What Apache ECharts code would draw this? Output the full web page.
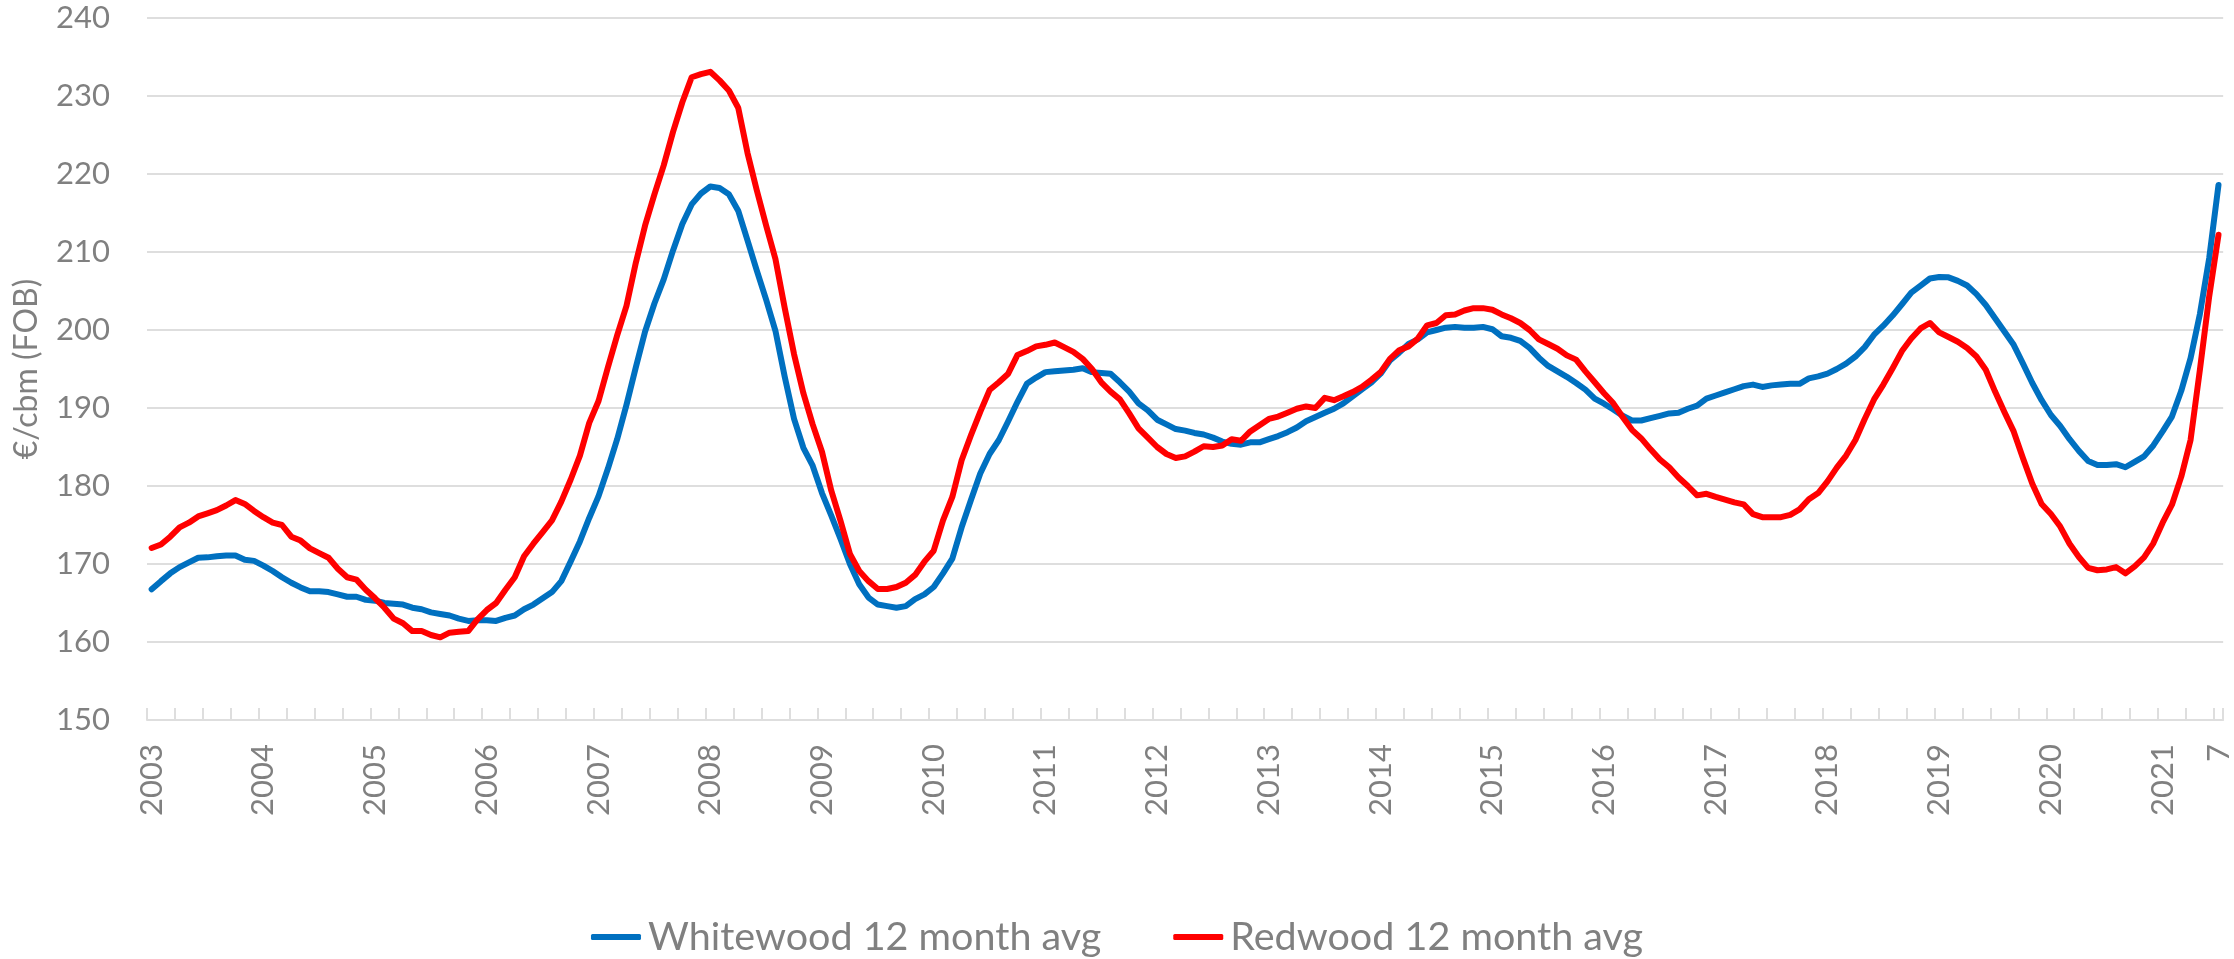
<!DOCTYPE html>
<html>
<head>
<meta charset="utf-8">
<script src="https://cdn.jsdelivr.net/npm/echarts@6/dist/echarts.min.js"></script>
<style>
html,body{margin:0;padding:0;background:#fff;}
#chart{width:2234px;height:959px;}
</style>
</head>
<body>
<div id="chart"></div>
<script>
// Monthly categories: Jan 2003 .. Jul 2021 (223 months)
const startYear = 2003;
const monthCount = 223;
const categories = [];
for (let i = 0; i < monthCount; i++) {
  const y = startYear + Math.floor(i / 12);
  const m = (i % 12) + 1;
  categories.push(y + '-' + (m < 10 ? '0' + m : m));
}
const lastLabel = '7';

const seriesNames = ['Whitewood 12 month avg', 'Redwood 12 month avg'];

const whitewood = [
166.75,167.8,168.8,169.6,170.2,170.8,170.85,171.0,171.1,171.1,170.55,170.4,
169.8,169.1,168.3,167.6,167.0,166.5,166.5,166.4,166.1,165.8,165.8,165.4,
165.3,165.0,164.9,164.8,164.4,164.2,163.8,163.6,163.4,163.0,162.7,162.8,
162.8,162.7,163.1,163.4,164.2,164.8,165.6,166.4,167.8,170.3,172.9,175.9,
178.7,182.2,186.0,190.4,195.2,199.8,203.4,206.5,210.2,213.6,216.1,217.5,
218.4,218.2,217.4,215.3,211.5,207.6,203.9,199.9,194.0,188.6,184.9,182.6,
179.1,176.2,173.2,170.0,167.4,165.7,164.8,164.6,164.4,164.6,165.5,166.1,
167.05,168.8,170.7,174.7,178.2,181.6,184.1,185.9,188.3,190.8,193.1,193.9,
194.6,194.7,194.8,194.9,195.1,194.6,194.5,194.4,193.3,192.1,190.6,189.7,
188.5,187.9,187.3,187.1,186.8,186.6,186.2,185.7,185.4,185.3,185.6,185.6,
186.0,186.4,186.9,187.5,188.3,188.85,189.4,189.9,190.6,191.5,192.4,193.25,
194.4,196.1,197.1,198.2,198.8,199.7,200.0,200.3,200.4,200.3,200.3,200.4,
200.1,199.2,199.0,198.6,197.7,196.45,195.4,194.7,194.0,193.2,192.35,191.2,
190.55,189.8,189.0,188.4,188.4,188.7,189.0,189.3,189.4,189.9,190.3,191.2,
191.6,192.0,192.4,192.8,193.0,192.7,192.9,193.0,193.1,193.1,193.8,194.05,
194.4,195.0,195.7,196.6,197.8,199.4,200.55,201.85,203.3,204.8,205.7,206.6,
206.8,206.75,206.3,205.7,204.6,203.2,201.5,199.8,198.1,195.7,193.2,191.0,
189.1,187.7,186.0,184.5,183.2,182.7,182.7,182.8,182.4,183.1,183.8,185.2,
187.0,188.9,192.2,196.4,202.05,209.2,218.6
];

const redwood = [
172.05,172.5,173.5,174.7,175.3,176.1,176.5,176.9,177.5,178.2,177.7,176.8,
176.0,175.3,175.0,173.5,173.0,172.0,171.4,170.8,169.4,168.3,168.0,166.7,
165.6,164.4,163.0,162.4,161.4,161.4,160.9,160.6,161.2,161.3,161.4,162.9,
164.1,165.0,166.7,168.3,171.0,172.6,174.1,175.6,178.0,180.8,183.9,188.1,
190.9,195.2,199.3,203.1,208.6,213.4,217.4,221.1,225.4,229.2,232.4,232.8,
233.1,232.0,230.7,228.5,222.7,217.9,213.4,209.1,202.8,196.9,191.9,187.9,
184.4,179.4,175.5,171.3,169.1,167.8,166.8,166.8,167.05,167.6,168.6,170.3,
171.7,175.6,178.6,183.3,186.5,189.5,192.3,193.3,194.4,196.8,197.3,197.9,
198.1,198.4,197.8,197.2,196.3,195.0,193.3,192.1,191.1,189.3,187.4,186.2,
185.0,184.1,183.6,183.8,184.4,185.1,185.0,185.2,186.0,185.8,187.0,187.8,
188.6,188.9,189.4,189.9,190.2,190.0,191.3,191.0,191.5,192.05,192.7,193.6,
194.6,196.3,197.4,197.9,198.9,200.6,200.9,201.9,202.0,202.5,202.8,202.8,
202.6,202.0,201.5,200.9,200.0,198.8,198.2,197.6,196.75,196.2,194.7,193.3,
191.9,190.6,188.85,187.2,186.1,184.7,183.4,182.4,181.1,180.0,178.8,179.0,
178.6,178.25,177.9,177.65,176.4,176.0,176.0,176.0,176.3,177.0,178.3,179.1,
180.6,182.35,183.9,185.9,188.6,191.1,193.0,195.1,197.3,198.9,200.2,200.9,
199.7,199.1,198.5,197.7,196.6,194.9,192.1,189.5,187.0,183.55,180.3,177.7,
176.4,174.8,172.6,170.9,169.5,169.2,169.3,169.6,168.8,169.7,170.85,172.65,
175.3,177.6,181.2,185.9,194.9,204.3,212.2
];

const yMin = 150, yMax = 240, yStep = 10;
const yAxisName = '€/cbm (FOB)';

const textColor = '#808080';
const gridColor = '#dedede';
const font = 'Lato';

const chart = echarts.init(document.getElementById('chart'), null, {renderer: 'canvas'});
chart.setOption({
  animation: false,
  backgroundColor: '#ffffff',
  grid: {left: 147, right: 9, top: 18, bottom: 239, containLabel: false},
  legend: {
    data: seriesNames,
    left: 'center',
    top: 912,
    icon: 'roundRect',
    itemWidth: 50,
    itemHeight: 6,
    itemGap: 72,
    textStyle: {color: textColor, fontSize: 39.5, fontFamily: font, padding: [0, 0, 0, 2]}
  },
  xAxis: {
    type: 'category',
    data: categories,
    boundaryGap: true,
    axisLine: {show: true, lineStyle: {color: gridColor, width: 2}},
    axisTick: {
      show: true, inside: true, length: 12,
      interval: function (idx) { return idx % 3 === 0; },
      lineStyle: {color: gridColor, width: 2}
    },
    axisLabel: {
      show: true,
      rotate: 90,
      margin: 24,
      color: textColor,
      fontSize: 31,
      fontFamily: font,
      interval: function (idx) { return idx % 12 === 0 || idx === monthCount - 1; },
      formatter: function (val, idx) {
        if (idx === monthCount - 1) return lastLabel;
        return val.slice(0, 4);
      }
    },
    splitLine: {show: false}
  },
  yAxis: {
    type: 'value',
    min: yMin, max: yMax, interval: yStep,
    name: yAxisName,
    nameLocation: 'middle',
    nameGap: 104,
    nameTextStyle: {color: textColor, fontSize: 32, fontFamily: font},
    axisLine: {show: false},
    axisTick: {show: false},
    axisLabel: {color: textColor, fontSize: 31, fontFamily: font, margin: 37},
    splitLine: {show: true, lineStyle: {color: gridColor, width: 2}}
  },
  series: [
    {
      name: seriesNames[0], type: 'line', data: whitewood,
      showSymbol: false, symbol: 'none',
      lineStyle: {color: '#0070C0', width: 6, join: 'round', cap: 'round'},
      itemStyle: {color: '#0070C0'}
    },
    {
      name: seriesNames[1], type: 'line', data: redwood,
      showSymbol: false, symbol: 'none',
      lineStyle: {color: '#FF0000', width: 6, join: 'round', cap: 'round'},
      itemStyle: {color: '#FF0000'}
    }
  ]
});
</script>
</body>
</html>
